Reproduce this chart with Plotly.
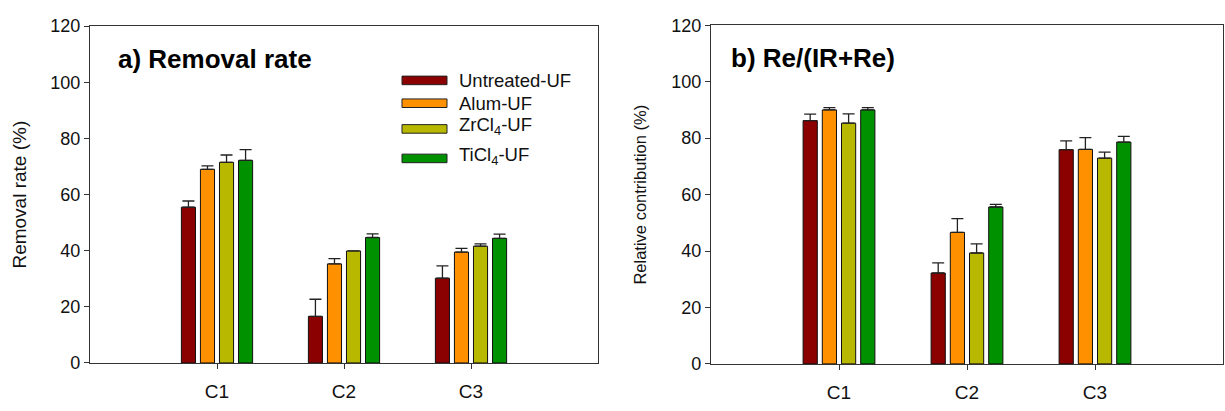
import plotly.graph_objects as go

W, H = 1225, 411

categories = ["C1", "C2", "C3"]
series_names = ["Untreated-UF", "Alum-UF", "ZrCl<sub>4</sub>-UF", "TiCl<sub>4</sub>-UF"]
colors = ["#8B0000", "#FF9100", "#B8B800", "#009100"]

# Panel a) Removal rate (%)
removal_vals = [
    [55.5, 16.6, 30.2],
    [69.0, 35.3, 39.5],
    [71.5, 39.9, 41.6],
    [72.2, 44.7, 44.4],
]
removal_err = [
    [2.2, 6.1, 4.4],
    [1.2, 1.9, 1.3],
    [2.6, 0.0, 0.8],
    [3.8, 1.3, 1.5],
]

# Panel b) Re/(IR+Re) relative contribution (%)
contrib_vals = [
    [86.2, 32.2, 75.9],
    [90.0, 46.6, 76.0],
    [85.3, 39.3, 72.9],
    [90.0, 55.6, 78.6],
]
contrib_err = [
    [2.3, 3.6, 3.1],
    [0.8, 4.9, 4.2],
    [3.3, 3.2, 2.1],
    [0.8, 0.9, 2.0],
]

y_ticks = [0, 20, 40, 60, 80, 100, 120]

FONT = "Liberation Sans, Arial, sans-serif"

def px_x(p):
    return p / W

def px_y(p):
    return (H - p) / H

fig = go.Figure()

for i, name in enumerate(series_names):
    for vals, errs, xa, ya in [(removal_vals, removal_err, "x", "y"),
                               (contrib_vals, contrib_err, "x2", "y2")]:
        fig.add_trace(go.Bar(
            x=categories, y=vals[i], name=name, xaxis=xa, yaxis=ya,
            marker=dict(color=colors[i], line=dict(color="#111111", width=1)),
            error_y=dict(type="data", array=errs[i], arrayminus=[0] * len(errs[i]),
                         symmetric=False, color="#222222", thickness=1.3, width=6),
            showlegend=False,
        ))

axis_common = dict(
    showline=True, linecolor="#333333", linewidth=1.2, mirror=True,
    ticks="outside", ticklen=5, tickcolor="#333333", tickwidth=1.2,
    showgrid=False, zeroline=False,
)

dom_y = [px_y(371), px_y(17)]
fig.update_layout(
    width=W, height=H,
    margin=dict(l=0, r=0, t=0, b=0),
    paper_bgcolor="white", plot_bgcolor="white",
    barmode="group", bargap=0.4, bargroupgap=0.26,
    font=dict(family=FONT, color="#111111"),
    xaxis=dict(domain=[px_x(90), px_x(598)], range=[-1, 3], anchor="y",
               tickfont=dict(size=19), ticklabelstandoff=6, **axis_common),
    yaxis=dict(domain=dom_y, range=[0, 120], tickvals=y_ticks, anchor="x",
               tickfont=dict(size=18), **axis_common),
    xaxis2=dict(domain=[px_x(711), px_x(1223)], range=[-1, 3], anchor="y2",
                tickfont=dict(size=19), ticklabelstandoff=6, **axis_common),
    yaxis2=dict(domain=[px_y(372), px_y(16)], range=[0, 120], tickvals=y_ticks, anchor="x2",
                tickfont=dict(size=18), **axis_common),
)

annotations = [
    dict(text="<b>a) Removal rate</b>", x=px_x(116), y=px_y(52), xref="paper", yref="paper",
         xanchor="left", yanchor="middle", showarrow=False, font=dict(size=26, color="#000")),
    dict(text="<b>b) Re/(IR+Re)</b>", x=px_x(729), y=px_y(50), xref="paper", yref="paper",
         xanchor="left", yanchor="middle", showarrow=False, font=dict(size=26, color="#000")),
    dict(text="Removal rate (%)", x=px_x(20), y=px_y(194), xref="paper", yref="paper",
         xanchor="center", yanchor="middle", textangle=-90, showarrow=False,
         font=dict(size=19, color="#111")),
    dict(text="Relative contribution (%)", x=px_x(640), y=px_y(194), xref="paper", yref="paper",
         xanchor="center", yanchor="middle", textangle=-90, showarrow=False,
         font=dict(size=16.5, color="#111")),
]

# Manual legend in panel a)
legend_rows = [74, 98, 125, 156]
text_rows = [74, 98, 122, 153]
shapes = []
for i, name in enumerate(series_names):
    yc = legend_rows[i]
    shapes.append(dict(type="rect", xref="paper", yref="paper",
                       x0=px_x(402), x1=px_x(447), y0=px_y(yc + 4.5), y1=px_y(yc - 4.5),
                       fillcolor=colors[i], line=dict(color="#222222", width=1)))
    annotations.append(dict(text=name, x=px_x(457), y=px_y(text_rows[i]), xref="paper", yref="paper",
                            xanchor="left", yanchor="middle", showarrow=False,
                            font=dict(size=18.5, color="#111")))

fig.update_layout(annotations=annotations, shapes=shapes)

fig.write_html("out.html")
